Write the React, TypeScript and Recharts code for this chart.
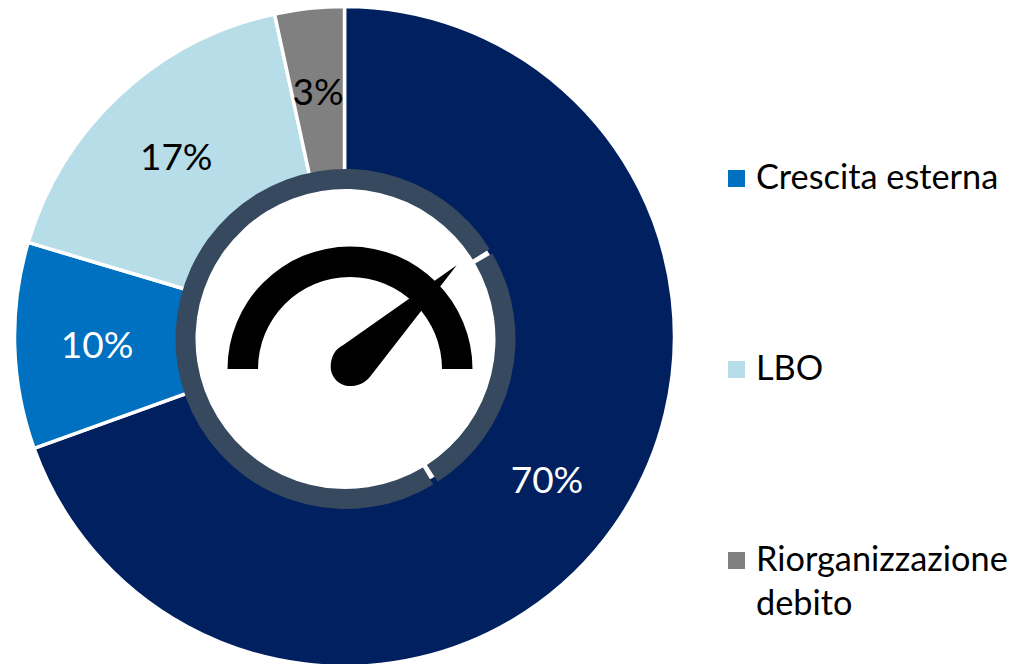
import { Legend, Pie, PieChart } from "recharts";

const FONT = "Lato, Carlito, sans-serif";
const RADIAN = Math.PI / 180;

const sliceNames = ["Finanziamento", "Crescita esterna", "LBO", "Riorganizzazione debito"];
const sliceValues = [69.5, 10.1, 17, 3.4];
const sliceLabels = ["70%", "10%", "17%", "3%"];
const sliceColors = ["#002060", "#0070C0", "#B7DEE8", "#808080"];
const labelColors = ["#FFFFFF", "#FFFFFF", "#000000", "#000000"];

const legendNames = ["Crescita esterna", "LBO", "Riorganizzazione debito"];
const legendColors = ["#0070C0", "#B7DEE8", "#808080"];

// dial ring and gauge icon in the hole
const ringValues = [24.5, 75.5];
const gaugeValues = [1];

const sliceData = sliceNames.map((name, i) => ({
  name,
  value: sliceValues[i],
  fill: sliceColors[i],
}));
const ringData = ringValues.map((value) => ({ value, fill: "#36495E" }));
const gaugeData = gaugeValues.map((value) => ({ value, fill: "#000000" }));

function renderSliceLabel(props: any) {
  const { cx, cy, midAngle, innerRadius, outerRadius, index } = props;
  const r = (innerRadius + outerRadius) / 2;
  const x = cx + r * Math.cos(-midAngle * RADIAN);
  const y = cy + r * Math.sin(-midAngle * RADIAN);
  return (
    <text
      x={x}
      y={y}
      fill={labelColors[index]}
      textAnchor="middle"
      dominantBaseline="central"
      fontFamily={FONT}
      fontSize={37}
    >
      {sliceLabels[index]}
    </text>
  );
}

function LegendBox() {
  return (
    <div style={{ fontFamily: FONT, fontSize: 34.3, lineHeight: "44px", color: "#000" }}>
      {legendNames.map((name, i) => (
        <div key={name} style={{ display: "flex", height: 44, marginBottom: 147 }}>
          <span
            style={{
              flex: "0 0 auto",
              width: 17,
              height: 17,
              marginTop: 14,
              marginRight: 11,
              background: legendColors[i],
            }}
          />
          <span style={{ position: "relative", top: -2 }}>{name}</span>
        </div>
      ))}
    </div>
  );
}

export default function App() {
  return (
    <div style={{ position: "absolute", left: 0, top: 0, width: 1015, height: 664 }}>
      <PieChart width={1015} height={664} margin={{ top: 0, right: 0, bottom: 0, left: 0 }}>
        <Pie
          data={sliceData}
          dataKey="value"
          cx={344.5}
          cy={336.5}
          innerRadius={165}
          outerRadius={330}
          startAngle={90}
          endAngle={-270}
          stroke="#FFFFFF"
          strokeWidth={3.5}
          label={renderSliceLabel}
          labelLine={false}
          isAnimationActive={false}
        />
        <Pie
          data={ringData}
          dataKey="value"
          cx={345.5}
          cy={339}
          innerRadius={150}
          outerRadius={170}
          startAngle={30.2}
          endAngle={-329.8}
          paddingAngle={1.8}
          stroke="none"
          isAnimationActive={false}
        />
        <Pie
          data={gaugeData}
          dataKey="value"
          cx={350}
          cy={369}
          innerRadius={92}
          outerRadius={122.5}
          startAngle={180}
          endAngle={0}
          stroke="none"
          isAnimationActive={false}
        />
        {/* needle of the gauge icon */}
        <path
          d="M456.7 265.3 L343.3 345 C335 349 330.7 357 330.7 366.7 C330.7 377.5 339.5 386 350 386 C358 386 365 383 370 376.7 Z"
          fill="#000000"
          stroke="#FFFFFF"
          strokeWidth={3}
          strokeLinejoin="round"
          style={{ paintOrder: "stroke" }}
        />
        <Legend
          content={<LegendBox />}
          wrapperStyle={{ position: "absolute", left: 728, top: 156, width: 287, bottom: "auto" }}
        />
      </PieChart>
    </div>
  );
}
